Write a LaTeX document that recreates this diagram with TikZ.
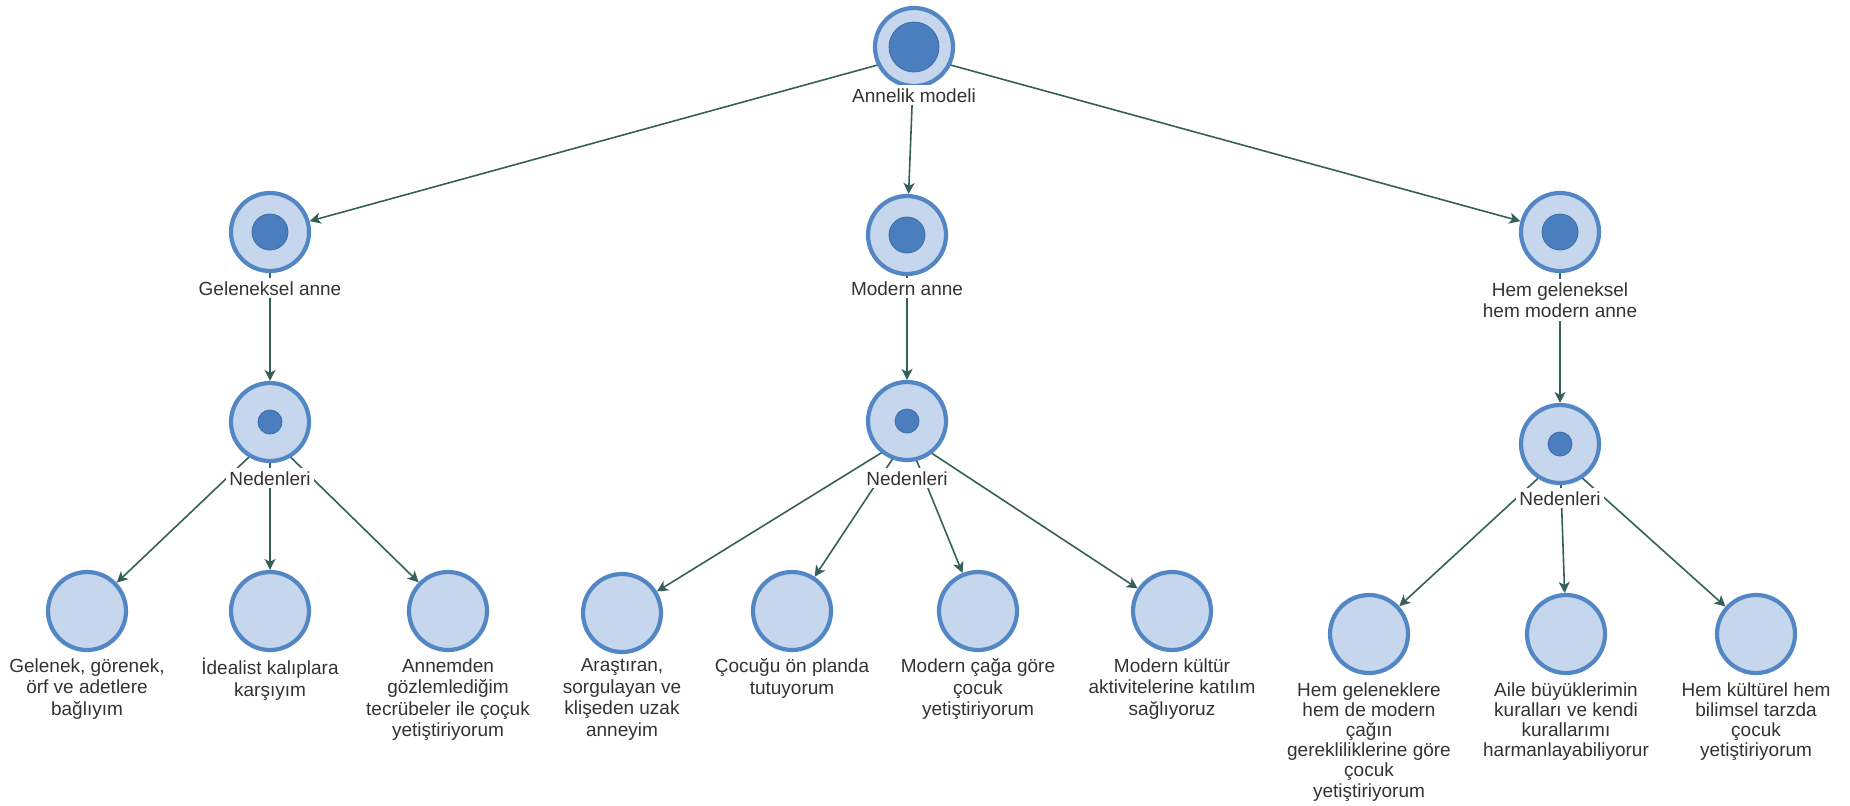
\documentclass[tikz,border=0pt]{standalone}
\usepackage{fontspec}
\setmainfont{Liberation Sans}
\usetikzlibrary{arrows.meta}
\definecolor{ringblue}{HTML}{5286C4}
\definecolor{lightblue}{HTML}{C6D6EC}
\definecolor{dotblue}{HTML}{4A7EBE}
\definecolor{dotedge}{HTML}{3D6BA6}
\definecolor{arrowc}{HTML}{35605A}
\definecolor{textgray}{HTML}{333333}
\pgfdeclarelayer{edges}
\pgfsetlayers{edges,main}
\tikzset{
  ring/.style={circle, draw=ringblue, line width=2.1pt, fill=lightblue, minimum size=39pt, inner sep=0pt},
  dotbig/.style={circle, fill=dotblue, draw=dotedge, line width=0.4pt, minimum size=25pt, inner sep=0pt},
  dotmid/.style={circle, fill=dotblue, draw=dotedge, line width=0.4pt, minimum size=18pt, inner sep=0pt},
  dotsmall/.style={circle, fill=dotblue, draw=dotedge, line width=0.4pt, minimum size=12pt, inner sep=0pt},
  lbl/.style={fill=white, inner sep=1.5pt, text=textgray, align=center, anchor=north,
    font=\fontsize{9.5}{10.8}\selectfont},
  lblr/.style={lbl, font=\fontsize{9.5}{10.1}\selectfont},
  conn/.style={draw=arrowc, line width=0.8pt, -{Stealth[length=5.5pt,width=5.5pt,inset=1.5pt]}},
}
\begin{document}
\begin{tikzpicture}[x=0.5pt,y=-0.5pt]
\useasboundingbox (0,0) rectangle (1850,805);

% root
\node[ring] (root) at (914,47) {};
\node[dotbig] (rootdot) at (914,47) {};
\node[lbl] (rootlbl) at (914,85) {Annelik modeli};
\coordinate (hroot) at (914,55);

% level 2
\node[ring] (gel) at (270,232) {};
\node[dotmid] (geldot) at (270,232) {};
\node[lbl] (gellbl) at (270,278) {Geleneksel anne};
\coordinate (hgel) at (270,244);

\node[ring] (mod) at (907,235) {};
\node[dotmid] (moddot) at (907,235) {};
\node[lbl] (modlbl) at (907,278) {Modern anne};
\coordinate (hmod) at (907,246);

\node[ring] (hem) at (1560,232) {};
\node[dotmid] (hemdot) at (1560,232) {};
\node[lbl] (hemlbl) at (1560,279) {Hem geleneksel\\hem modern anne};
\coordinate (hhem) at (1560,254);

% level 3
\node[ring] (nedl) at (270,422) {};
\node[dotsmall] (nedldot) at (270,422) {};
\node[lbl] (nedllbl) at (270,468) {Nedenleri};
\coordinate (hnedl) at (270,437);

\node[ring] (nedm) at (907,421) {};
\node[dotsmall] (nedmdot) at (907,421) {};
\node[lbl] (nedmlbl) at (907,468) {Nedenleri};
\coordinate (hnedm) at (907,437);

\node[ring] (nedr) at (1560,444) {};
\node[dotsmall] (nedrdot) at (1560,444) {};
\node[lbl] (nedrlbl) at (1560,488) {Nedenleri};
\coordinate (hnedr) at (1560,458);

% leaves left
\node[ring] (l1) at (87,611) {};
\node[lbl] (l1lbl) at (87,655) {Gelenek, görenek,\\örf ve adetlere\\bağlıyım};
\node[ring] (l2) at (270,611) {};
\node[lbl] (l2lbl) at (270,655) {İdealist kalıplara\\karşıyım};
\node[ring] (l3) at (448,611) {};
\node[lbl] (l3lbl) at (448,655) {Annemden\\gözlemlediğim\\tecrübeler ile çoçuk\\yetiştiriyorum};

% leaves middle
\node[ring] (m1) at (622,613) {};
\node[lbl] (m1lbl) at (622,655) {Araştıran,\\sorgulayan ve\\klişeden uzak\\anneyim};
\node[ring] (m2) at (792,611) {};
\node[lbl] (m2lbl) at (792,655) {Çocuğu ön planda\\tutuyorum};
\node[ring] (m3) at (978,611) {};
\node[lbl] (m3lbl) at (978,655) {Modern çağa göre\\çocuk\\yetiştiriyorum};
\node[ring] (m4) at (1172,611) {};
\node[lbl] (m4lbl) at (1172,655) {Modern kültür\\aktivitelerine katılım\\sağlıyoruz};

% leaves right
\node[ring] (r1) at (1369,634) {};
\node[lblr] (r1lbl) at (1369,679) {Hem geleneklere\\hem de modern\\çağın\\gerekliliklerine göre\\çocuk\\yetiştiriyorum};
\node[ring] (r2) at (1566,634) {};
\node[lblr] (r2lbl) at (1566,679) {Aile büyüklerimin\\kuralları ve kendi\\kurallarımı\\harmanlayabiliyorur};
\node[ring] (r3) at (1756,634) {};
\node[lblr] (r3lbl) at (1756,679) {Hem kültürel hem\\bilimsel tarzda\\çocuk\\yetiştiriyorum};

\begin{pgfonlayer}{edges}
\draw[conn] (hroot) -- (gel);
\draw[conn] (hroot) -- (mod);
\draw[conn] (hroot) -- (hem);
\draw[conn] (hgel) -- (nedl);
\draw[conn] (hmod) -- (nedm);
\draw[conn] (hhem) -- (nedr);
\draw[conn] (hnedl) -- (l1);
\draw[conn] (hnedl) -- (l2);
\draw[conn] (hnedl) -- (l3);
\draw[conn] (hnedm) -- (m1);
\draw[conn] (hnedm) -- (m2);
\draw[conn] (hnedm) -- (m3);
\draw[conn] (hnedm) -- (m4);
\draw[conn] (hnedr) -- (r1);
\draw[conn] (hnedr) -- (r2);
\draw[conn] (hnedr) -- (r3);
\end{pgfonlayer}
\end{tikzpicture}
\end{document}
